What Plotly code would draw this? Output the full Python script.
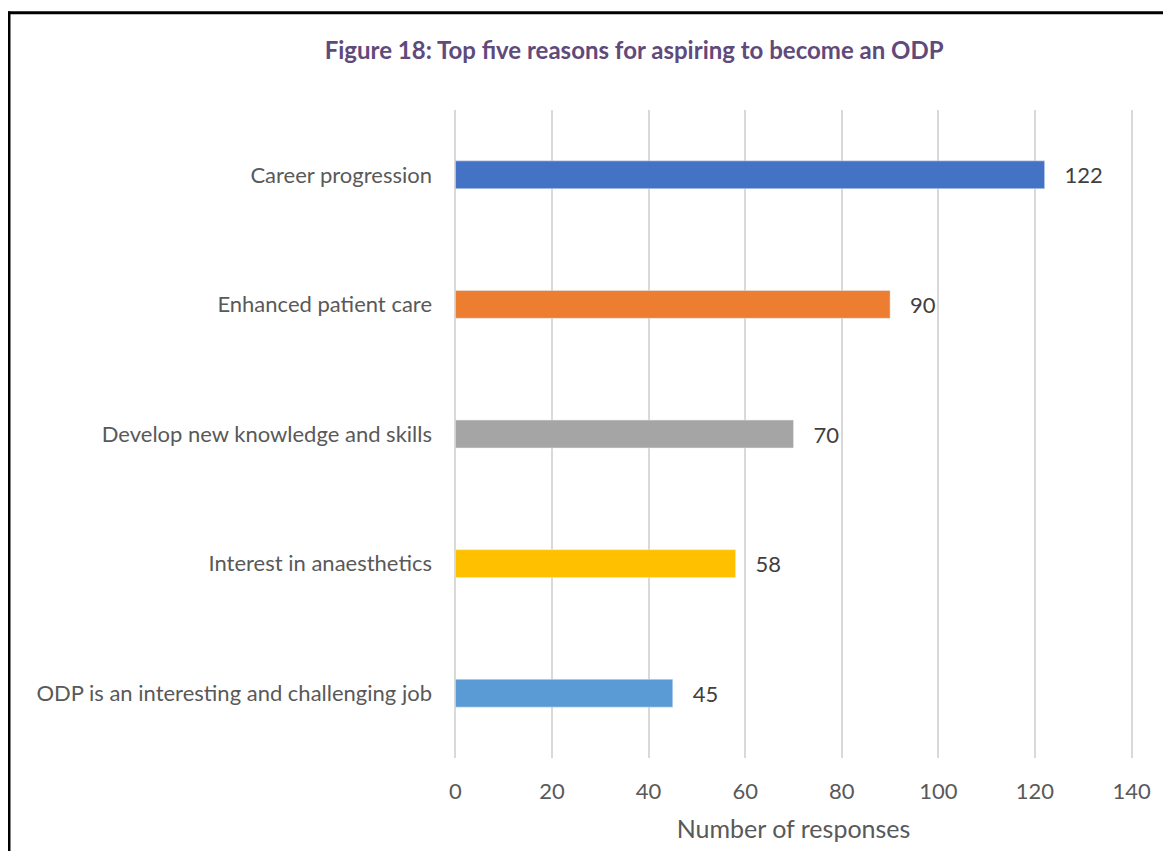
import plotly.graph_objects as go

reasons = ["Career progression", "Enhanced patient care", "Develop new knowledge and skills",
           "Interest in anaesthetics", "ODP is an interesting and challenging job"]
responses = [122, 90, 70, 58, 45]
colors = ["#4472C4", "#ED7D31", "#A5A5A5", "#FFC000", "#5B9BD5"]
x_ticks = [0, 20, 40, 60, 80, 100, 120, 140]

font = "Lato, 'Open Sans', sans-serif"

fig = go.Figure()
fig.add_trace(go.Bar(
    y=reasons, x=responses, orientation="h",
    marker_color=colors, width=0.215,
    text=responses, texttemplate="\u00a0\u00a0\u00a0%{x}",
    textposition="outside", cliponaxis=False,
    textfont=dict(size=22, color="#404040", family=font),
    hoverinfo="x+y"))

# page body has an 8px margin, so the figure is a bit smaller and margins shifted
# x range padded slightly so the 0 and 140 gridlines are drawn
fig.update_layout(
    width=1155, height=843,
    margin=dict(l=445, r=25, t=102, b=91),
    paper_bgcolor="white", plot_bgcolor="white",
    showlegend=False,
    title=dict(text="<b>Figure 18: Top five reasons for aspiring to become an ODP</b>",
               xref="paper", x=0.266, xanchor="center", y=0.950, yanchor="middle",
               font=dict(size=24, color="#604A7B", family=font)),
    xaxis=dict(range=[-0.5, 140.5], tickvals=x_ticks, showgrid=True,
               gridcolor="#D9D9D9", gridwidth=1.5, zeroline=False,
               showline=False, ticks="", ticklabelstandoff=18,
               tickfont=dict(size=22, color="#595959", family=font),
               title=dict(text="Number of responses", standoff=17,
                          font=dict(size=25, color="#595959", family=font))),
    yaxis=dict(categoryorder="array", categoryarray=reasons[::-1],
               showgrid=False, ticks="", showline=False,
               ticklabelstandoff=20,
               tickfont=dict(size=22, color="#595959", family=font)),
    shapes=[
        dict(type="line", xref="paper", yref="paper", x0=-0.652, x1=-0.652,
             y0=-0.2, y1=1.152, line=dict(color="black", width=3)),
        dict(type="line", xref="paper", yref="paper", x0=-0.654, x1=1.06,
             y0=1.150, y1=1.150, line=dict(color="black", width=3)),
    ],
)

fig.write_html("out.html")
